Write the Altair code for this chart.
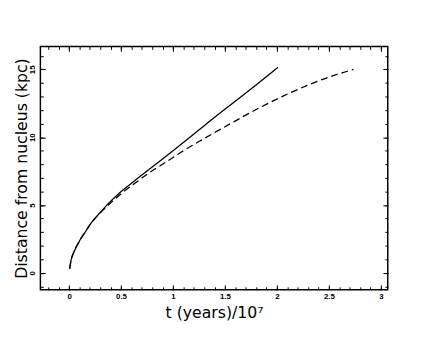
import altair as alt
import pandas as pd

# Solid curve
t_solid = [0.005, 0.02, 0.05, 0.1, 0.15, 0.22, 0.3, 0.377, 0.472, 0.6, 0.75, 0.85, 1.0, 1.163, 1.3, 1.54, 1.75, 2.01]
d_solid = [0.3, 0.95, 1.6, 2.35, 2.95, 3.75, 4.45, 5.1, 5.8, 6.6, 7.5, 8.1, 9.0, 10.0, 10.85, 12.3, 13.55, 15.15]

# Dashed curve
t_dashed = [0.005, 0.02, 0.05, 0.1, 0.15, 0.22, 0.3, 0.377, 0.45, 0.535, 0.65, 0.786, 0.95, 1.1, 1.3, 1.54, 1.79, 2.107, 2.4, 2.736]
d_dashed = [0.3, 0.95, 1.6, 2.35, 2.95, 3.75, 4.42, 5.0, 5.5, 6.05, 6.7, 7.45, 8.25, 9.0, 9.9, 10.94, 12.0, 13.2, 14.15, 15.0]

x_major = [0, 0.5, 1, 1.5, 2, 2.5, 3]
x_minor = [round(-0.2 + 0.1 * i, 1) for i in range(33)]
y_major = [0, 5, 10, 15]
y_minor = list(range(-1, 17))

x_title = "t (years)/10\u2077"
y_title = "Distance from nucleus (kpc)"

df_s = pd.DataFrame({"t": t_solid, "d": d_solid})
df_d = pd.DataFrame({"t": t_dashed, "d": d_dashed})

xs = alt.Scale(domain=[-0.276, 3.066], nice=False, zero=False)
ys = alt.Scale(domain=[-1.245, 16.69], nice=False, zero=False)

LFONT = "Liberation Sans"
TFONT = "DejaVu Sans"


def tick_axis(orient, values, size):
    return alt.Axis(orient=orient, values=values, tickSize=size, offset=-size,
                    domain=False, grid=False, labels=False, tickColor="black",
                    tickWidth=1, title=None)


# labels + titles only (no ticks)
x_lab = alt.Axis(orient="bottom", values=x_major, ticks=False, tickSize=0, domain=False,
                 grid=False, format="~g", labelFont=LFONT, labelFontSize=8,
                 labelFontWeight="bold", labelColor="black", labelPadding=3,
                 title=x_title, titleFont=TFONT, titleFontSize=16,
                 titleFontWeight="normal", titleColor="black", titlePadding=4)
y_lab = alt.Axis(orient="left", values=y_major, ticks=False, tickSize=0, domain=False,
                 grid=False, labelFont=LFONT, labelFontSize=8, labelFontWeight="bold",
                 labelColor="black", labelPadding=4, labelAngle=270,
                 labelAlign="center", labelBaseline="bottom",
                 title=y_title, titleFont=TFONT, titleFontSize=16,
                 titleFontWeight="normal", titleColor="black", titlePadding=-1)

solid = alt.Chart(df_s).mark_line(color="black", strokeWidth=1.3, interpolate="monotone").encode(
    x=alt.X("t:Q", scale=xs, axis=x_lab),
    y=alt.Y("d:Q", scale=ys, axis=y_lab),
)

dashed = alt.Chart(df_d).mark_line(color="black", strokeWidth=1.3, strokeDash=[7, 4],
                                   interpolate="monotone").encode(
    x=alt.X("t:Q", scale=xs, axis=None),
    y=alt.Y("d:Q", scale=ys, axis=None),
)

major_bl = alt.Chart(df_s).mark_line(strokeOpacity=0).encode(
    x=alt.X("t:Q", scale=xs, axis=tick_axis("bottom", x_major, 5)),
    y=alt.Y("d:Q", scale=ys, axis=tick_axis("left", y_major, 5)),
)
minor_bl = alt.Chart(df_s).mark_line(strokeOpacity=0).encode(
    x=alt.X("t:Q", scale=xs, axis=tick_axis("bottom", x_minor, 3)),
    y=alt.Y("d:Q", scale=ys, axis=tick_axis("left", y_minor, 3)),
)
major_tr = alt.Chart(df_s).mark_line(strokeOpacity=0).encode(
    x=alt.X("t:Q", scale=xs, axis=tick_axis("top", x_major, 5)),
    y=alt.Y("d:Q", scale=ys, axis=tick_axis("right", y_major, 5)),
)
minor_tr = alt.Chart(df_s).mark_line(strokeOpacity=0).encode(
    x=alt.X("t:Q", scale=xs, axis=tick_axis("top", x_minor, 3)),
    y=alt.Y("d:Q", scale=ys, axis=tick_axis("right", y_minor, 3)),
)

chart = alt.layer(solid, dashed, major_bl, minor_bl, major_tr, minor_tr).resolve_axis(
    x="independent", y="independent"
).properties(
    width=354, height=248,
    autosize=alt.AutoSizeParams(type="none"),
    padding={"left": 33, "top": 36, "right": 41, "bottom": 45},
    background="white",
).configure_view(stroke="black", strokeWidth=1.5)

chart.save("out.html", embed_options={"renderer": "svg", "actions": False})
